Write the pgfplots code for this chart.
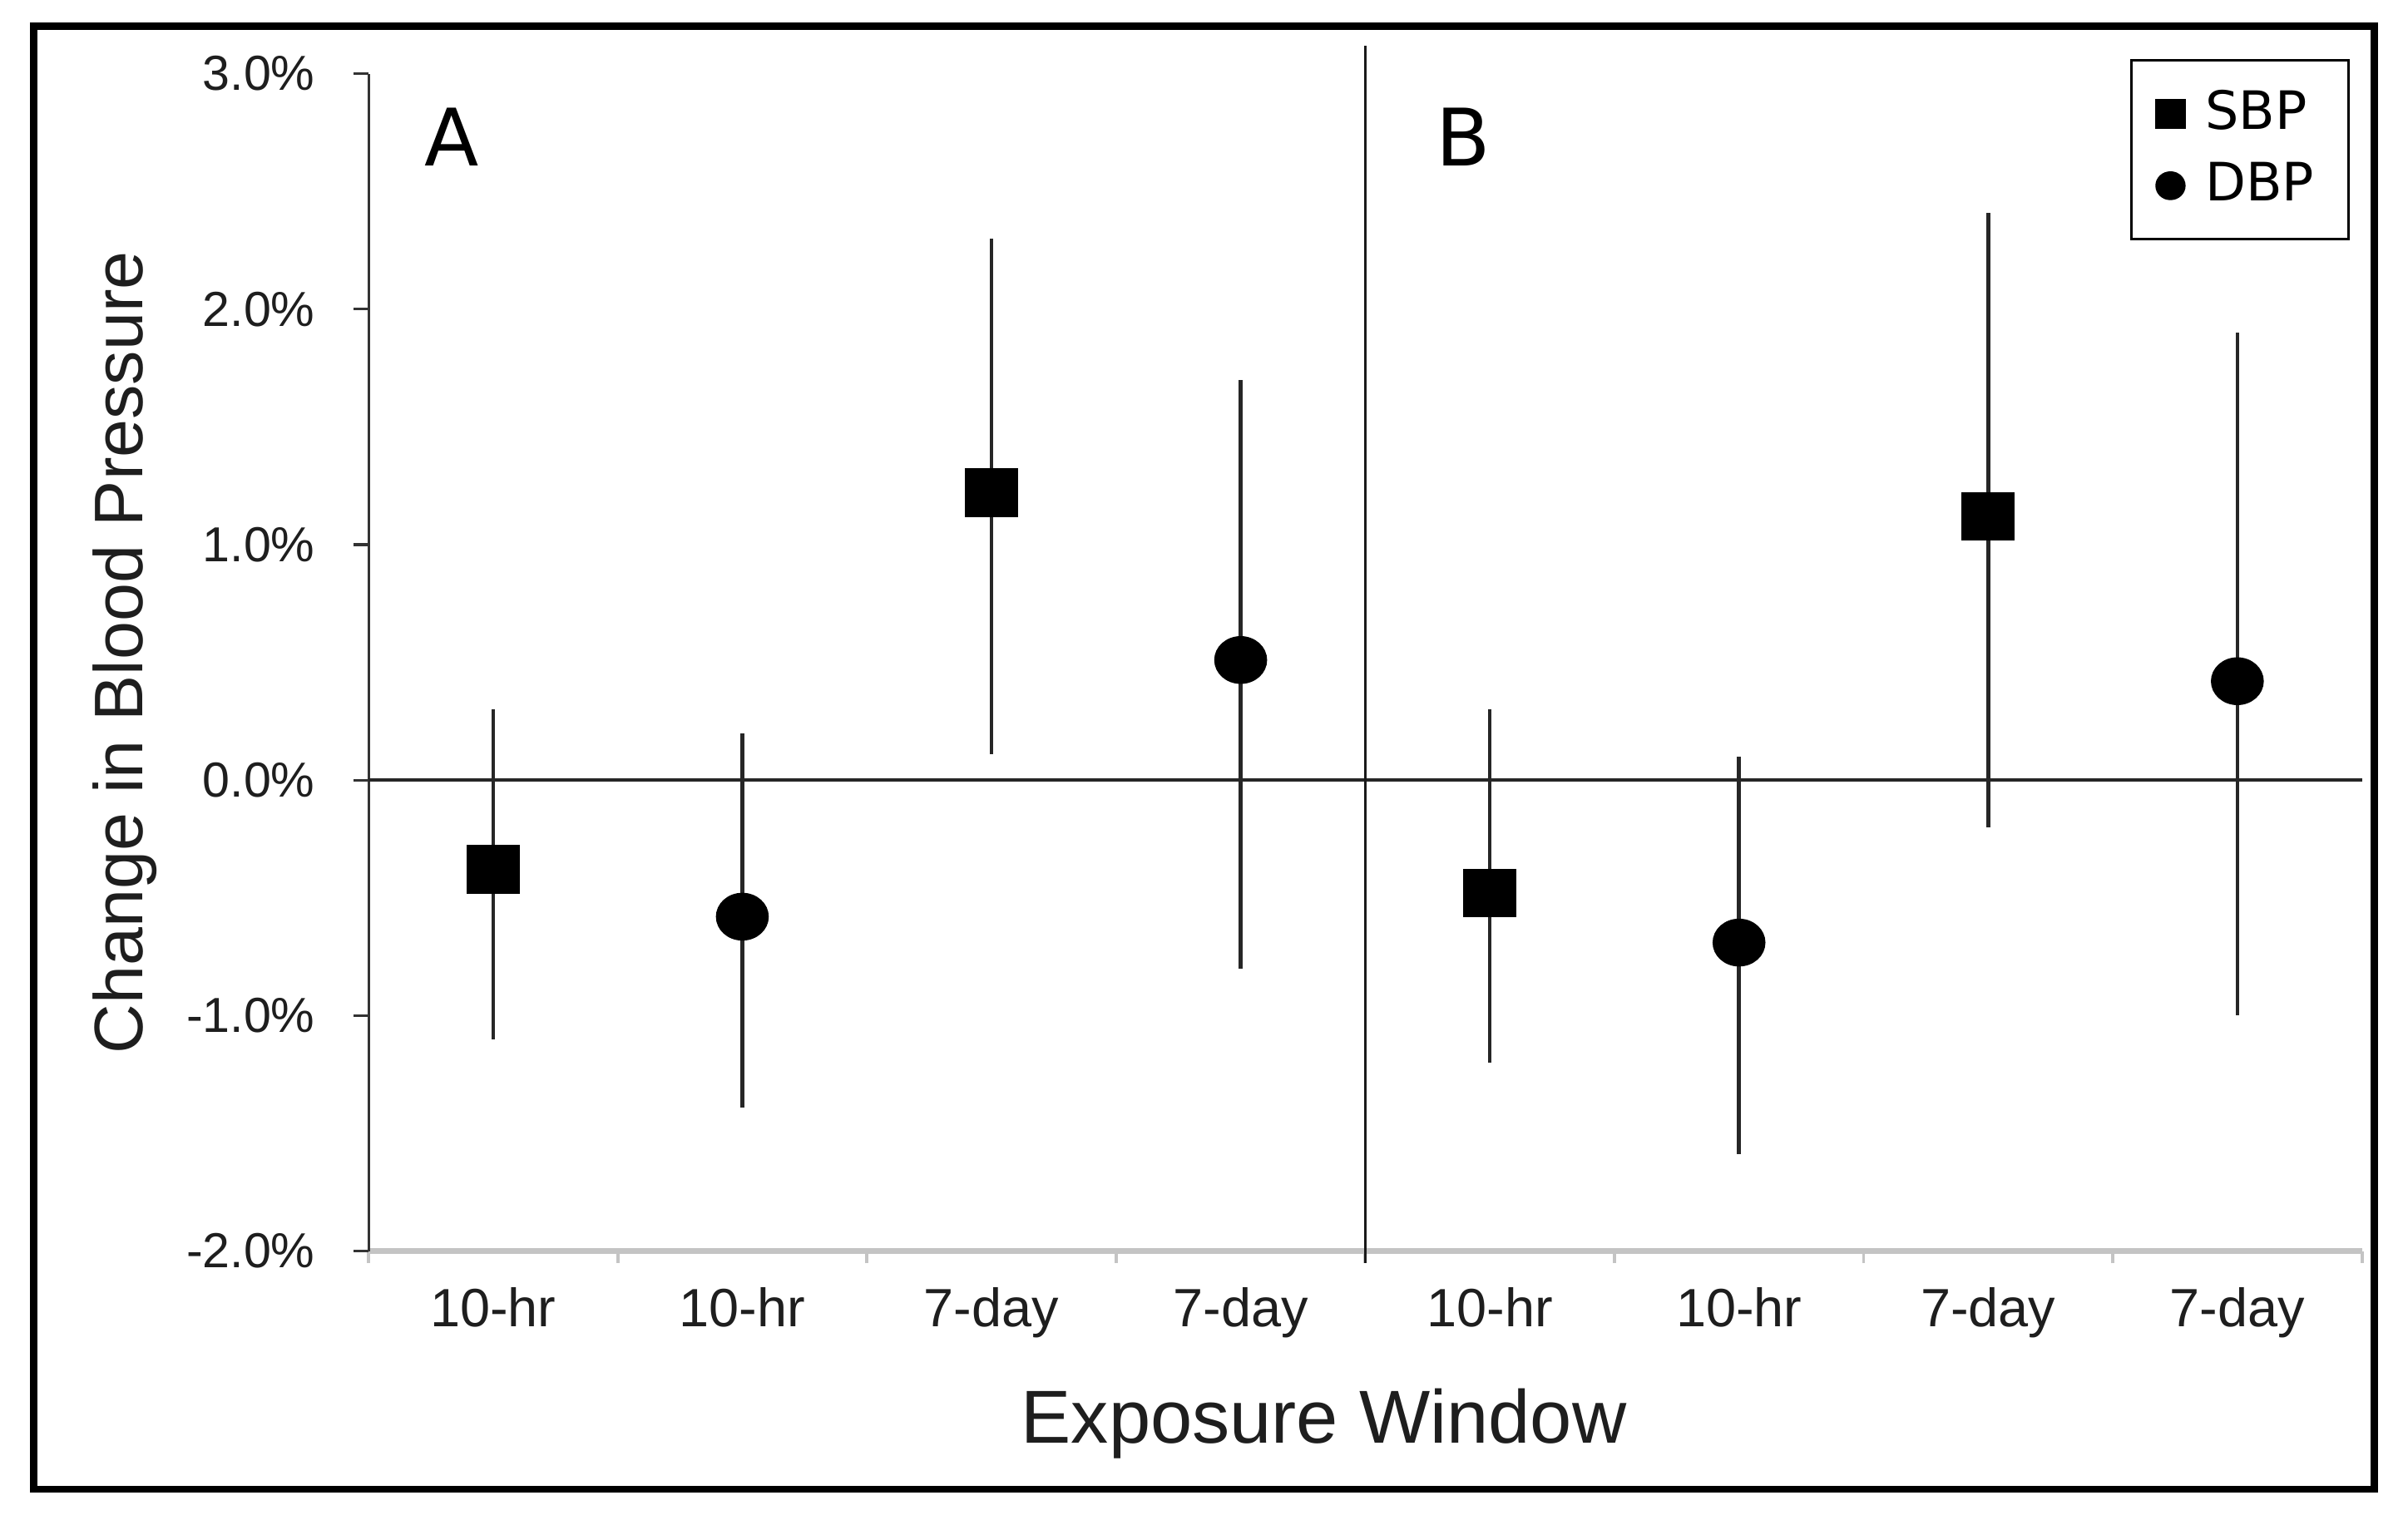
\documentclass[border=0pt]{standalone}
\usepackage{pgfplots}
\usepackage{pgfplotstable}
\pgfplotsset{compat=1.18}
\usepackage{fontspec}
\setmainfont{Liberation Sans}
\newfontfamily\dejavu{DejaVu Sans}
\definecolor{axgray}{HTML}{C4C4C4}
\definecolor{txt}{HTML}{1E1E1E}

% x = category position (0..7), y = change (%), ep/em = distance to upper/lower CI limit
\pgfplotstableread{
x y ep em
0 -0.38 0.68 0.72
2 1.22 1.08 1.11
4 -0.48 0.78 0.72
6 1.12 1.29 1.32
}\sbp
\pgfplotstableread{
x y ep em
1 -0.58 0.78 0.81
3 0.51 1.19 1.31
5 -0.69 0.79 0.90
7 0.42 1.48 1.42
}\dbp

\begin{document}
\begin{tikzpicture}
\begin{axis}[
  scale only axis,
  width=13.245cm, height=7.826cm,
  xmin=-0.5, xmax=7.5, ymin=-2, ymax=3,
  clip=false,
  axis lines*=left,
  x axis line style={axgray, line width=1pt},
  y axis line style={black!80, line width=0.5pt},
  tick align=outside,
  ytick={-2,-1,0,1,2,3},
  yticklabels={-2.0\%,-1.0\%,0.0\%,1.0\%,2.0\%,3.0\%},
  major tick length=0.1cm,
  y tick style={black!80, line width=0.5pt},
  yticklabel style={anchor=east, inner sep=0pt, xshift=-0.25cm, font=\fontsize{9.3}{11}\selectfont, text=txt},
  xtick={0,1,...,7},
  xticklabels={10-hr,10-hr,7-day,7-day,10-hr,10-hr,7-day,7-day},
  major x tick style={draw=none},
  minor xtick={-0.5,0.5,...,7.5},
  minor x tick style={axgray, line width=0.6pt},
  minor tick length=0.08cm,
  xticklabel style={anchor=base, inner sep=0pt, yshift=-0.4cm, font=\fontsize{10.2}{12}\selectfont, text=txt},
  xlabel={Exposure Window},
  xlabel style={at={(rel axis cs:0.4792,-0.163)}, anchor=base, inner sep=0pt, font=\fontsize{14.2}{16}\selectfont, text=txt},
  ylabel={Change in Blood Pressure},
  ylabel style={at={(rel axis cs:-0.1133,0.5085)}, anchor=base, inner sep=0pt, font=\fontsize{13}{15}\selectfont, text=txt},
  legend style={at={(rel axis cs:0.8837,1.0124)}, anchor=north west, draw=black, line width=0.45pt,
    inner xsep=0.16cm, inner ysep=0.13cm, row sep=0.025cm,
    font=\dejavu\fontsize{10}{12}\selectfont},
  legend cell align=left,
]
% frame and bounding box
\coordinate (bbsw) at (rel axis cs:-0.18490,-0.22816);
\coordinate (bbne) at (rel axis cs:1.02311,1.06258);
\draw[line width=1.3pt, black] (rel axis cs:-0.16795,-0.20209) rectangle (rel axis cs:1.00616,1.04042);
% zero line and panel separator
\draw[black!85, line width=0.6pt] (axis cs:-0.5,0) -- (axis cs:7.5,0);
\draw[black!90, line width=0.55pt] (axis cs:3.5,-2.05) -- (axis cs:3.5,3.117);
% panel letters
\node[anchor=base, inner sep=0pt, font=\dejavu\fontsize{15}{17}\selectfont] at (rel axis cs:0.0416,0.9218) {A};
\node[anchor=base, inner sep=0pt, font=\dejavu\fontsize{15}{17}\selectfont] at (rel axis cs:0.5493,0.9218) {B};

\addplot[only marks, mark=square*, mark size=4.8pt, black,
  mark options={yscale=0.92},
  legend image code/.code={\fill[black] (0cm,-0.092cm) rectangle (0.185cm,0.092cm); \path (0.245cm,0cm);},
  error bars/.cd, y dir=both, y explicit, error mark=none,
  error bar style={line width=0.7pt, black!85}]
  table[x=x, y=y, y error plus=ep, y error minus=em] {\sbp};
\addlegendentry{SBP}
\addplot[only marks, mark=*, mark size=4.8pt, black,
  mark options={yscale=0.9},
  legend image code/.code={\fill[black] (0.0925cm,0cm) ellipse (0.0925cm and 0.088cm); \path (0.245cm,0cm);},
  error bars/.cd, y dir=both, y explicit, error mark=none,
  error bar style={line width=0.7pt, black!85}]
  table[x=x, y=y, y error plus=ep, y error minus=em] {\dbp};
\addlegendentry{DBP}
\end{axis}
\pgfresetboundingbox
\useasboundingbox (bbsw) rectangle (bbne);
\end{tikzpicture}
\end{document}
